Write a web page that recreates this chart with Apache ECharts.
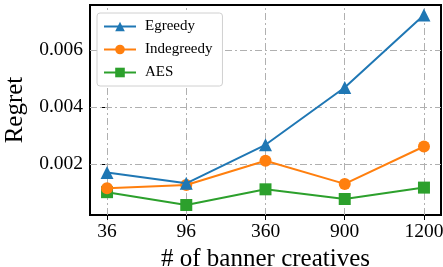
<!DOCTYPE html>
<html>
<head>
<meta charset="utf-8">
<script src="https://cdn.jsdelivr.net/npm/echarts@6/dist/echarts.min.js"></script>
<style>
  html, body { margin: 0; padding: 0; background: #fff; }
  #chart { width: 443px; height: 267px; }
</style>
</head>
<body>
<div id="chart"></div>
<script>
// 横轴类别
var categories = ['36', '96', '360', '900', '1200']
var yTicks = [0.002, 0.004, 0.006]

// 各算法的 regret
var egreedy = [0.00171, 0.00133, 0.00268, 0.00469, 0.00723]
var indegreedy = [0.00116, 0.00127, 0.00212, 0.00131, 0.00262]
var aes = [0.00102, 0.00057, 0.00112, 0.00078, 0.00118]

function pairs(arr) {
  return arr.map(function (v, i) { return [i, v] })
}

var font = 'Liberation Serif'
var gridStyle = { color: '#b0b0b0', width: 1, type: [7, 3, 2, 3] }

var myChart = echarts.init(document.getElementById('chart'))

var option = {
  animation: false,
  textStyle: { fontFamily: font },
  grid: {
    left: 90, right: 2, top: 5, bottom: 52,
    outerBoundsMode: 'none',
    containLabel: false,
    show: true, borderColor: '#000', borderWidth: 2, backgroundColor: 'transparent'
  },
  legend: {
    left: 97, top: 13,
    orient: 'vertical',
    itemWidth: 32, itemHeight: 12, itemGap: 8,
    padding: [6, 10, 6, 6],
    backgroundColor: '#fff',
    borderColor: '#d0d0d0', borderWidth: 1, borderRadius: 3,
    textStyle: { fontFamily: font, fontSize: 15, color: '#000', padding: [0, 0, 0, 4] },
    data: ['Egreedy', 'Indegreedy', 'AES']
  },
  xAxis: {
    type: 'value',
    min: -0.215, max: 4.215,
    name: '# of banner creatives',
    nameLocation: 'middle',
    nameGap: 25,
    nameTextStyle: { fontFamily: font, fontSize: 25, color: '#000' },
    axisLine: { show: false },
    axisTick: { show: true, length: 5, lineStyle: { color: '#000', width: 1 }, customValues: [0, 1, 2, 3, 4] },
    axisLabel: {
      fontFamily: font, fontSize: 19.5, color: '#000', margin: 7,
      customValues: [0, 1, 2, 3, 4],
      formatter: function (v) { return categories[Math.round(v)] }
    },
    splitLine: { show: false }
  },
  yAxis: {
    type: 'value',
    min: 0.00022, max: 0.00758,
    name: 'Regret',
    nameLocation: 'middle',
    nameGap: 55,
    nameTextStyle: { fontFamily: font, fontSize: 25, color: '#000' },
    axisLine: { show: false },
    axisTick: { show: true, length: 5, lineStyle: { color: '#000', width: 1 }, customValues: yTicks },
    axisLabel: {
      fontFamily: font, fontSize: 19.5, color: '#000', margin: 7,
      customValues: yTicks,
      formatter: function (v) { return v.toFixed(3) }
    },
    splitLine: { show: false }
  },
  series: [
    {
      name: 'Egreedy', type: 'line', data: pairs(egreedy),
      symbol: 'triangle', symbolSize: 13,
      lineStyle: { width: 2, color: '#1f77b4' },
      itemStyle: { color: '#1f77b4' },
      z: 4,
      markLine: {
        silent: true, symbol: 'none', label: { show: false },
        lineStyle: gridStyle,
        z: 1,
        data: [0, 1, 2, 3, 4].map(function (x) { return { xAxis: x } })
      }
    },
    {
      name: 'Indegreedy', type: 'line', data: pairs(indegreedy),
      symbol: 'circle', symbolSize: 12,
      lineStyle: { width: 2, color: '#ff7f0e' },
      itemStyle: { color: '#ff7f0e' },
      z: 3,
      markLine: {
        silent: true, symbol: 'none', label: { show: false },
        lineStyle: gridStyle,
        z: 1,
        data: yTicks.map(function (y) {
          return [{ coord: [-0.215, y] }, { coord: [4.215, y] }]
        })
      }
    },
    {
      name: 'AES', type: 'line', data: pairs(aes),
      symbol: 'rect', symbolSize: 12,
      lineStyle: { width: 2, color: '#2ca02c' },
      itemStyle: { color: '#2ca02c' },
      z: 2
    }
  ]
}

myChart.setOption(option)
</script>
</body>
</html>
